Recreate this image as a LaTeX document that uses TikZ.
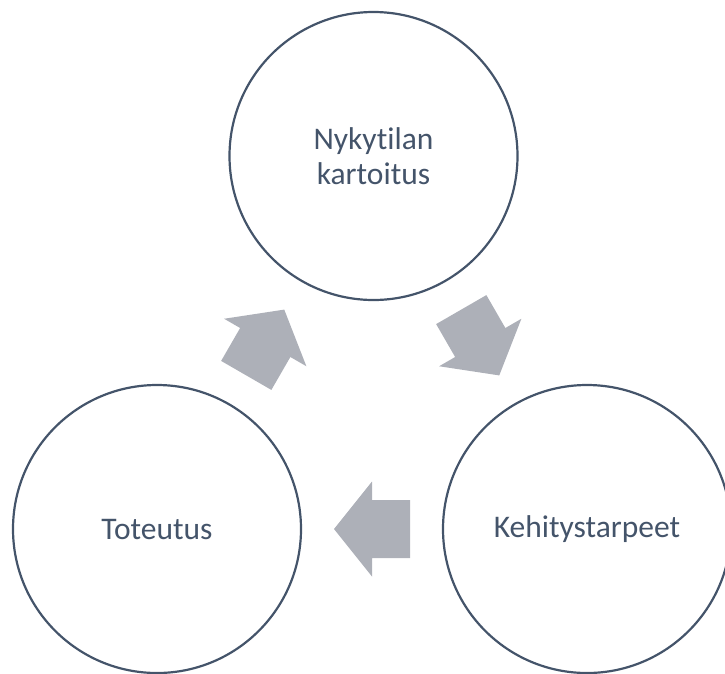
\documentclass[tikz,border=0pt]{standalone}
\usepackage{fontspec}
\setmainfont{Carlito}[RawFeature=-liga]
\usetikzlibrary{calc}
\definecolor{slate}{HTML}{44546A}
\definecolor{arrowgray}{HTML}{ADB0B8}
\tikzset{
  phase/.style={circle, draw=slate, line width=2.2pt, minimum size=288pt,
    inner sep=0pt, outer sep=0pt, text=slate, align=center,
    font=\fontsize{31.5}{34.5}\selectfont},
  pics/cyclearrow/.style={code={
    \fill[arrowgray] (-38,-29) -- (0,-29) -- (0,-47.5) -- (38,0)
      -- (0,47.5) -- (0,29) -- (-38,29) -- cycle;}}
}
\begin{document}
\begin{tikzpicture}[x=1pt, y=-1pt]
  \useasboundingbox (0,0) rectangle (725,673);
  \clip (0,0) rectangle (725,673);
  % the three phases of the cycle
  \node[phase] (nyky) at (373.5,156) {Nykytilan\\kartoitus};
  \node[phase] (kehi) at (587,529) {Kehitystarpeet};
  \node[phase] (tote) at (157,529) {Toteutus};
  % block arrows halfway between consecutive phases
  \coordinate (a1) at ($(nyky.center)!0.5!(kehi.center)$);
  \coordinate (a2) at ($(kehi.center)!0.5!(tote.center)$);
  \coordinate (a3) at ($(tote.center)!0.5!(nyky.center)$);
  \pic[rotate=-60] at (a1) {cyclearrow};
  \pic[rotate=180] at (a2) {cyclearrow};
  \pic[rotate=60] at (a3) {cyclearrow};
\end{tikzpicture}
\end{document}
